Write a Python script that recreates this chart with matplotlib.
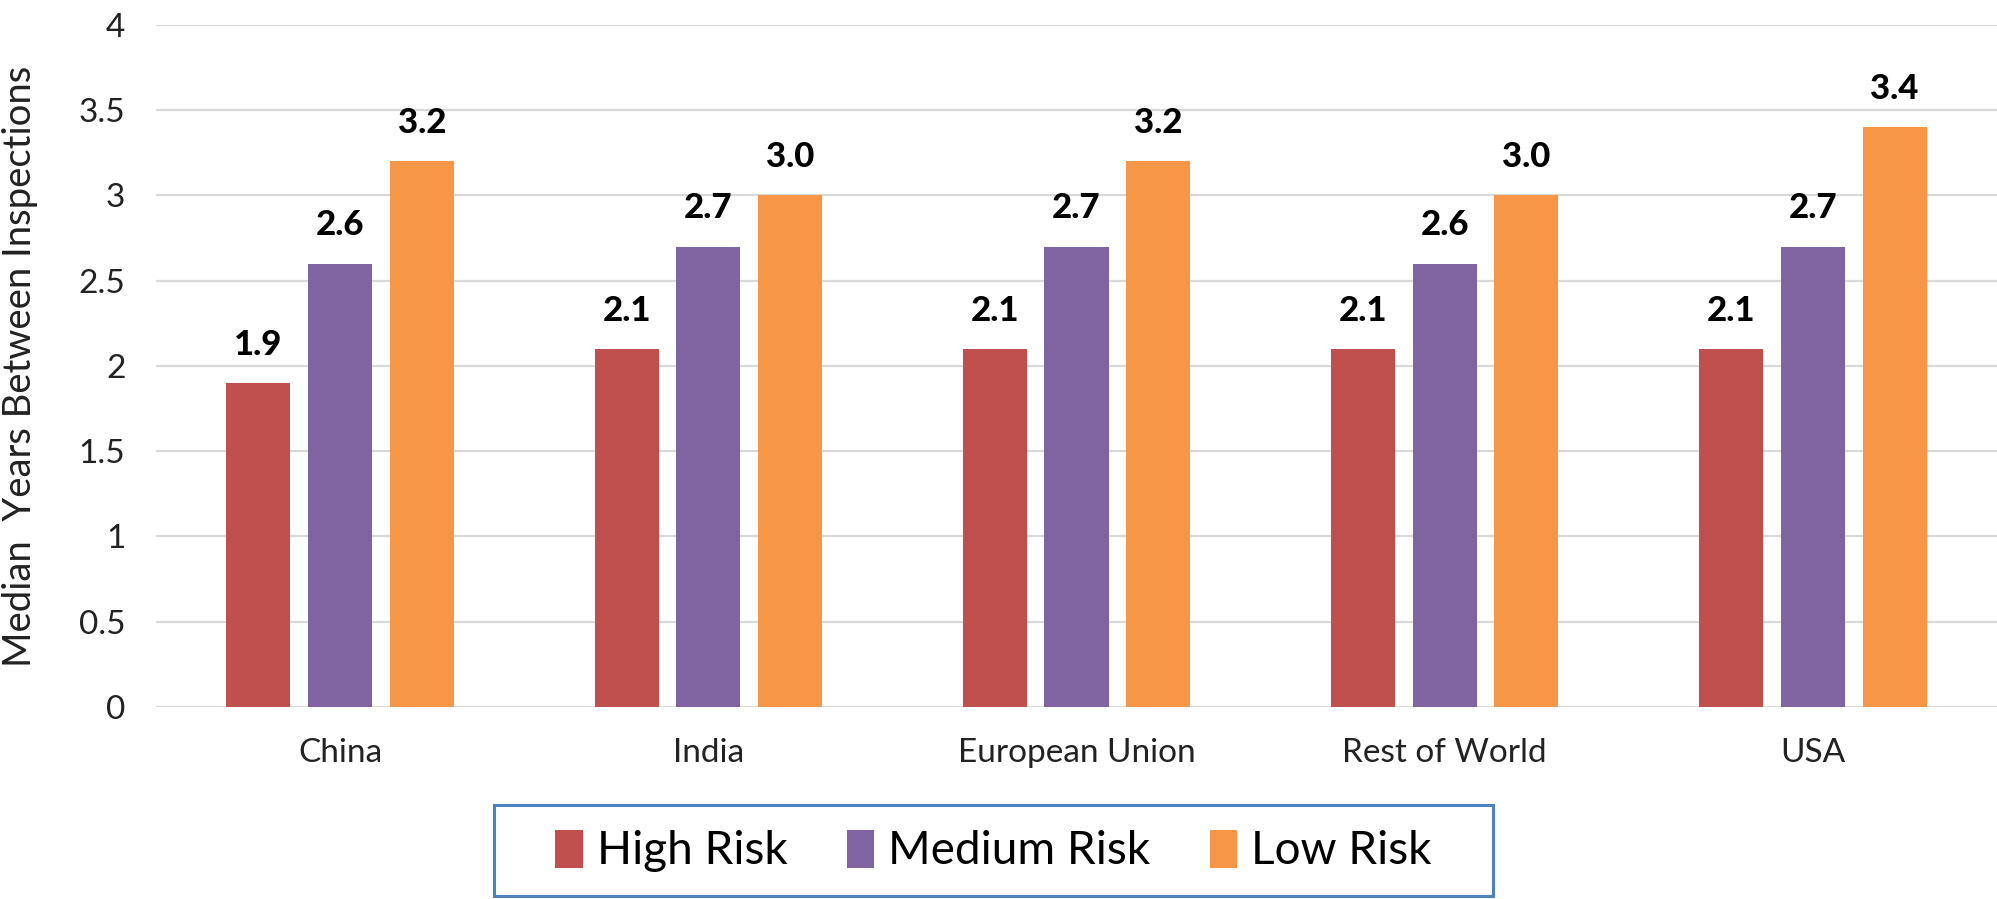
import matplotlib
matplotlib.use("Agg")
import matplotlib.pyplot as plt
import numpy as np
from matplotlib.patches import Rectangle

# Dati del grafico
regions = ["China", "India", "European Union", "Rest of World", "USA"]
high_risk = [1.9, 2.1, 2.1, 2.1, 2.1]
medium_risk = [2.6, 2.7, 2.7, 2.6, 2.7]
low_risk = [3.2, 3.0, 3.2, 3.0, 3.4]
series_names = ["High Risk", "Medium Risk", "Low Risk"]
y_ticks = [0, 0.5, 1, 1.5, 2, 2.5, 3, 3.5, 4]

plt.rcParams['font.family'] = ['Lato', 'DejaVu Sans']

fig = plt.figure(figsize=(19.97, 8.99), dpi=100)
ax = fig.add_axes([0.0781, 0.2136, 0.9219, 0.7586])

colors = ["#C0504D", "#8064A2", "#F79646"]
x = np.arange(len(regions))
width = 0.174
step = 0.222

for i, (name, vals) in enumerate(zip(series_names, [high_risk, medium_risk, low_risk])):
    pos = x + (i - 1) * step
    bars = ax.bar(pos, vals, width=width, color=colors[i], label=name, zorder=3)
    for b, v in zip(bars, vals):
        ax.annotate(f"{v:.1f}", (b.get_x() + b.get_width() / 2, v),
                    xytext=(0, 16), textcoords="offset points",
                    ha="center", va="bottom", fontsize=25, fontweight="black")

ax.set_xlim(-0.5, len(regions) - 0.5)
ax.set_ylim(0, 4)
ax.set_yticks(y_ticks)
ax.set_yticklabels([f"{t:g}" for t in y_ticks])
ax.set_xticks(x)
ax.set_xticklabels(regions)
ax.tick_params(axis="both", length=0, labelsize=24, colors="#222222")
ax.tick_params(axis="y", pad=22)
ax.tick_params(axis="x", pad=22)

ax.grid(axis="y", color="#D9D9D9", linewidth=1.6, zorder=0)
for s in ax.spines.values():
    s.set_visible(False)

ax.set_ylabel("Median  Years Between Inspections", fontsize=27.5, color="#222222")
ax.yaxis.set_label_coords(-0.064, 0.5)

# Legenda con cornice blu
handles, labels = ax.get_legend_handles_labels()
fig.legend(handles, labels, loc="center", bbox_to_anchor=(0.4975, 0.0534),
           ncol=3, frameon=False, fontsize=33, handlelength=0.6, handleheight=0.9,
           handletextpad=0.3, columnspacing=1.3)
fig.patches.append(Rectangle((0.2474, 0.003), 0.5003, 0.1018, transform=fig.transFigure,
                             fill=False, edgecolor="#4F81BD", linewidth=2.2))

fig.savefig("out.png", dpi=100)
